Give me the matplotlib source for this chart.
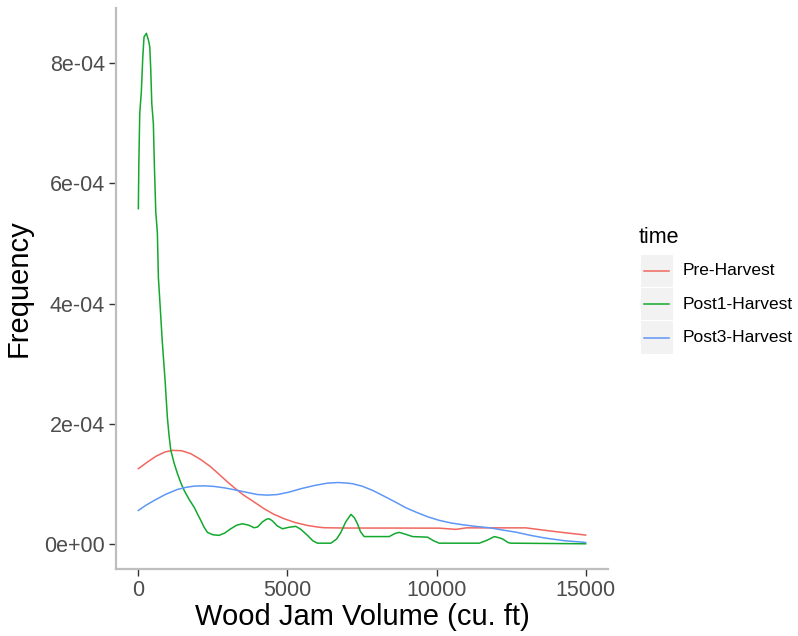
import matplotlib
matplotlib.use("Agg")
import matplotlib.pyplot as plt
import numpy as np
from matplotlib.patches import Rectangle
from matplotlib.lines import Line2D

# density curves (y in units of 1e-4)
pre_x = [0, 300, 600, 900, 1141, 1450, 1758, 2100, 2429, 2700, 2987, 3250, 3547, 3900,
         4218, 4550, 4889, 5250, 5672, 6000, 6232, 7000, 8500, 10090, 10650, 11000,
         13000, 13700, 14200, 15000]
pre_y = [1.25, 1.36, 1.46, 1.53, 1.555, 1.55, 1.5, 1.4, 1.28, 1.16, 1.03, 0.92, 0.805, 0.69,
         0.583, 0.49, 0.417, 0.355, 0.305, 0.28, 0.267, 0.262, 0.262, 0.26, 0.24, 0.265,
         0.265, 0.22, 0.19, 0.145]

post1_x = [0, 15, 47, 100, 148, 190, 268, 336, 382, 416, 450, 503, 537, 584, 638, 671, 718,
           800, 896, 973, 1030, 1087, 1200, 1310, 1420, 1534, 1700, 1869, 1980, 2093, 2200,
           2316, 2500, 2708, 2900, 3100, 3300, 3490, 3700, 3882, 4000, 4150, 4300, 4386,
           4500, 4650, 4833, 5050, 5280, 5450, 5672, 5850, 6007, 6457, 6650, 6793, 6950,
           7128, 7250, 7350, 7450, 7574, 8413, 8600, 8749, 8950, 9195, 9698, 9900, 10090,
           11434, 11700, 11937, 12100, 12216, 12400, 12497, 15000]
post1_y = [5.58, 6.3, 7.17, 7.53, 8.1, 8.44, 8.5, 8.39, 8.28, 7.89, 7.33, 7.0, 6.3, 5.53, 5.17,
           4.44, 4.06, 3.38, 2.72, 2.1, 1.8, 1.56, 1.34, 1.17, 1.02, 0.89, 0.74, 0.61, 0.5,
           0.39, 0.28, 0.19, 0.15, 0.14, 0.18, 0.25, 0.31, 0.333, 0.31, 0.267, 0.28, 0.36,
           0.41, 0.417, 0.38, 0.3, 0.25, 0.275, 0.29, 0.24, 0.14, 0.05, 0.01, 0.01, 0.08,
           0.19, 0.36, 0.49, 0.43, 0.33, 0.2, 0.12, 0.12, 0.17, 0.19, 0.16, 0.12, 0.11, 0.05,
           0.01, 0.01, 0.06, 0.12, 0.1, 0.08, 0.02, 0.01, 0.0]

post3_x = [0, 250, 527, 900, 1310, 1600, 1869, 2200, 2540, 2900, 3212, 3600, 3994, 4330,
           4665, 5050, 5450, 5900, 6343, 6700, 7014, 7182, 7500, 7853, 8250, 8638, 8970,
           9310, 9700, 10090, 10500, 10873, 11300, 11769, 12200, 12666, 13150, 13672,
           14300, 14900, 15000]
post3_y = [0.555, 0.64, 0.72, 0.82, 0.905, 0.94, 0.96, 0.965, 0.955, 0.93, 0.9, 0.86, 0.82,
           0.81, 0.82, 0.86, 0.917, 0.97, 1.01, 1.02, 1.01, 1.0, 0.96, 0.89, 0.79, 0.69,
           0.6, 0.527, 0.45, 0.39, 0.345, 0.317, 0.29, 0.267, 0.23, 0.193, 0.14, 0.093,
           0.05, 0.027, 0.02]

groups = ["Pre-Harvest", "Post1-Harvest", "Post3-Harvest"]
colors = ["#F0675F", "#13A82E", "#5E97F6"]
series = [(pre_x, pre_y), (post1_x, post1_y), (post3_x, post3_y)]

x_ticks = [0, 5000, 10000, 15000]
y_ticks = [0, 2e-4, 4e-4, 6e-4, 8e-4]
y_tick_labels = ["0e+00", "2e-04", "4e-04", "6e-04", "8e-04"]

plt.rcParams['font.family'] = ['Liberation Sans', 'DejaVu Sans']

fig = plt.figure(figsize=(7.98, 6.36), dpi=100)
ax = fig.add_axes([116 / 798, 1 - 569.3 / 636, (608 - 116) / 798, (569.3 - 7.8) / 636])

for (xs, ys), c in zip(series, colors):
    ax.plot(xs, np.array(ys) * 1e-4, color=c, lw=1.1, solid_joinstyle='round')

ymax = 8.5e-4
ax.set_xlim(-750, 15750)
ax.set_ylim(-0.05 * ymax, ymax * 1.05)
ax.set_xticks(x_ticks)
ax.set_xticklabels([str(v) for v in x_ticks])
ax.set_yticks(y_ticks)
ax.set_yticklabels(y_tick_labels)
ax.tick_params(axis='both', colors='#333333', length=5, width=1, labelsize=15.5,
               labelcolor='#4D4D4D', pad=3)

for side in ['top', 'right']:
    ax.spines[side].set_visible(False)
for side in ['left', 'bottom']:
    ax.spines[side].set_color('#BEBEBE')
    ax.spines[side].set_linewidth(1.6)

ax.set_xlabel("Wood Jam Volume (cu. ft)", fontsize=21, labelpad=1)
ax.set_ylabel("Frequency", fontsize=21, labelpad=8)

# legend, ggplot style with grey key boxes
lg = fig.add_axes([0, 0, 1, 1], facecolor='none')
lg.set_xlim(0, 798)
lg.set_ylim(636, 0)
lg.axis('off')
lg.text(639, 243, "time", fontsize=15.5, va='baseline', ha='left')
for i, (name, c) in enumerate(zip(groups, colors)):
    top = 254 + i * 33.4
    lg.add_patch(Rectangle((641, top + 0.5), 31.7, 32.4, facecolor='#F2F2F2', edgecolor='none'))
    lg.add_line(Line2D([643.5, 669], [top + 16.7, top + 16.7], color=c, lw=1.1))
    lg.text(683, top + 16.7, name, fontsize=12.5, va='center', ha='left')

fig.savefig("out.png", dpi=100)
